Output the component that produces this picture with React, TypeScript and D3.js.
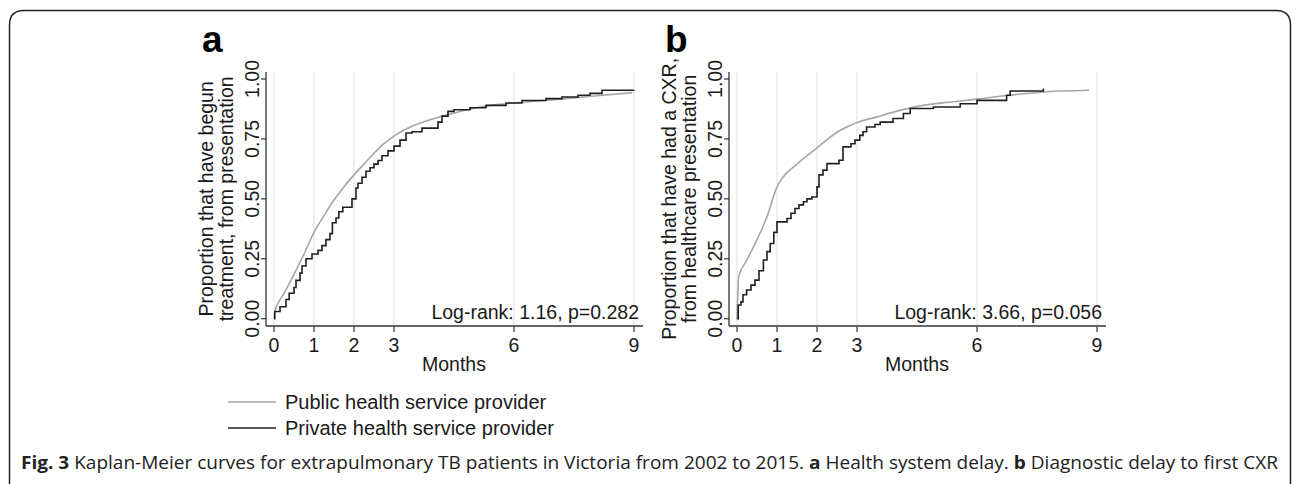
import React from "react";
import * as d3 from "d3";

const W = 1292;
const H = 484;
const FONT = "'Liberation Sans', Arial, Helvetica, sans-serif";
const CAP_FONT = "'Open Sans', 'Noto Sans', sans-serif";

const monthTicks = [0, 1, 2, 3, 6, 9];
const propTicks = [0, 0.25, 0.5, 0.75, 1];
const propLabels = ["0.00", "0.25", "0.50", "0.75", "1.00"];

// Panel a: health system delay
const aPublicT = [0, 0.02, 0.25, 0.5, 0.75, 1.0, 1.25, 1.5, 1.75, 2.0, 2.25, 2.5, 2.75, 3.0, 3.25, 3.5, 4.0, 4.5, 5.0, 5.5, 6.0, 7.0, 8.0, 8.96];
const aPublicP = [0, 0.03, 0.105, 0.185, 0.27, 0.36, 0.43, 0.495, 0.55, 0.6, 0.645, 0.69, 0.73, 0.762, 0.787, 0.806, 0.835, 0.858, 0.878, 0.892, 0.9, 0.914, 0.929, 0.943];

const aPrivateT = [0, 0.02, 0.15, 0.3, 0.38, 0.5, 0.55, 0.65, 0.7, 0.8, 0.95, 1.1, 1.2, 1.3, 1.4, 1.46, 1.55, 1.62, 1.72, 1.95, 2.05, 2.1, 2.2, 2.3, 2.4, 2.5, 2.6, 2.7, 2.85, 3.0, 3.15, 3.3, 3.45, 3.7, 4.1, 4.2, 4.35, 4.5, 4.9, 5.3, 5.8, 6.2, 6.8, 7.2, 7.6, 7.9, 8.2, 8.99];
const aPrivateP = [0, 0.03, 0.05, 0.08, 0.106, 0.13, 0.16, 0.19, 0.22, 0.25, 0.27, 0.285, 0.305, 0.33, 0.355, 0.4, 0.42, 0.446, 0.465, 0.5, 0.545, 0.565, 0.59, 0.615, 0.63, 0.645, 0.66, 0.68, 0.7, 0.72, 0.745, 0.775, 0.78, 0.795, 0.82, 0.845, 0.865, 0.872, 0.88, 0.89, 0.9, 0.91, 0.918, 0.925, 0.932, 0.94, 0.953, 0.955];

// Panel b: diagnostic delay to first CXR
const bPublicT = [0, 0.02, 0.04, 0.25, 0.5, 0.75, 1.0, 1.15, 1.5, 1.75, 2.0, 2.25, 2.5, 2.75, 3.0, 3.5, 4.0, 4.65, 5.3, 6.0, 6.75, 7.6, 8.8];
const bPublicP = [0, 0.1, 0.175, 0.245, 0.33, 0.425, 0.55, 0.59, 0.645, 0.68, 0.713, 0.747, 0.778, 0.8, 0.818, 0.842, 0.866, 0.89, 0.903, 0.916, 0.931, 0.945, 0.953];

const bPrivateT = [0, 0.03, 0.1, 0.15, 0.24, 0.35, 0.45, 0.55, 0.66, 0.75, 0.83, 0.92, 1.0, 1.25, 1.35, 1.45, 1.55, 1.66, 1.75, 1.87, 2.0, 2.05, 2.15, 2.25, 2.55, 2.65, 2.85, 2.95, 3.07, 3.15, 3.24, 3.45, 3.58, 3.9, 4.16, 4.33, 4.91, 5.58, 6.0, 6.74, 6.83, 7.66];
const bPrivateP = [0, 0.057, 0.07, 0.1, 0.12, 0.14, 0.161, 0.2, 0.245, 0.28, 0.314, 0.36, 0.404, 0.418, 0.44, 0.46, 0.475, 0.488, 0.5, 0.508, 0.55, 0.6, 0.62, 0.647, 0.661, 0.717, 0.73, 0.745, 0.765, 0.78, 0.8, 0.81, 0.82, 0.835, 0.856, 0.877, 0.883, 0.897, 0.911, 0.932, 0.95, 0.96];

const seriesNames = ["Public health service provider", "Private health service provider"];
const seriesColors = ["#a6a6a6", "#1f1f1f"];

const zip = (t: number[], p: number[]) => t.map((v, i) => [v, p[i]] as [number, number]);

type PanelProps = {
  dx: number;
  letter: string;
  title1: string;
  title2: string;
  logrank: string;
  pub: [number, number][];
  priv: [number, number][];
};

function Panel({ dx, letter, title1, title2, logrank, pub, priv }: PanelProps) {
  const x = d3.scaleLinear().domain([0, 9]).range([274 + dx, 634 + dx]);
  const y = d3.scaleLinear().domain([0, 1]).range([318.7, 79]);
  const axisX = 266 + dx;
  const axisY = 326;
  const top = 72;
  const right = 643 + dx;
  const pubLine = d3.line<[number, number]>().x((d) => x(d[0])).y((d) => y(d[1])).curve(d3.curveMonotoneX);
  const privLine = d3.line<[number, number]>().x((d) => x(d[0])).y((d) => y(d[1])).curve(d3.curveStepAfter);
  const yMid = (y(0) + y(1)) / 2;
  return (
    <g fontFamily={FONT} fill="#1a1a1a">
      {monthTicks.map((m) => (
        <line key={"g" + m} x1={x(m)} x2={x(m)} y1={top} y2={axisY} stroke="#e4e4e4" strokeWidth={1.2} />
      ))}
      <path d={pubLine(pub) || ""} fill="none" stroke={seriesColors[0]} strokeWidth={1.6} />
      <path d={privLine(priv) || ""} fill="none" stroke={seriesColors[1]} strokeWidth={1.6} />
      <line x1={axisX} x2={axisX} y1={top} y2={axisY} stroke="#333" strokeWidth={1.3} />
      <line x1={axisX} x2={right} y1={axisY} y2={axisY} stroke="#333" strokeWidth={1.3} />
      {propTicks.map((v, i) => (
        <g key={"y" + v}>
          <line x1={axisX - 5} x2={axisX} y1={y(v)} y2={y(v)} stroke="#333" strokeWidth={1.2} />
          <text
            transform={`translate(${axisX - 7},${y(v)}) rotate(-90)`}
            textAnchor="middle"
            fontSize={19.5}
          >
            {propLabels[i]}
          </text>
        </g>
      ))}
      {monthTicks.map((m) => (
        <g key={"x" + m}>
          <line x1={x(m)} x2={x(m)} y1={axisY} y2={axisY + 6} stroke="#333" strokeWidth={1.2} />
          <text x={x(m)} y={352} textAnchor="middle" fontSize={19.5}>
            {m}
          </text>
        </g>
      ))}
      <text x={x(4.5)} y={371} textAnchor="middle" fontSize={19.5}>
        Months
      </text>
      <text transform={`translate(${axisX - 53},${yMid}) rotate(-90)`} textAnchor="middle" fontSize={19.5}>
        {title1}
      </text>
      <text transform={`translate(${axisX - 33},${yMid}) rotate(-90)`} textAnchor="middle" fontSize={19.5}>
        {title2}
      </text>
      <text x={x(9) + 5} y={319} textAnchor="end" fontSize={19.5}>
        {logrank}
      </text>
      <text x={axisX - 64} y={52} fontSize={37} fontWeight="bold" fill="#000">
        {letter}
      </text>
    </g>
  );
}

export default function App() {
  return (
    <svg
      width={W}
      height={H}
      viewBox={`0 0 ${W} ${H}`}
      style={{ position: "absolute", left: 0, top: 0, background: "#fff" }}
    >
      <rect x={0} y={0} width={W} height={H} fill="#fff" />
      <path
        d={`M 9.5 ${H + 2} L 9.5 25 Q 9.5 10.5 24 10.5 L 1276 10.5 Q 1290.5 10.5 1290.5 25 L 1290.5 ${H + 2}`}
        fill="none"
        stroke="#222"
        strokeWidth={1.5}
      />
      <Panel
        dx={0}
        letter="a"
        title1="Proportion that have begun"
        title2="treatment, from presentation"
        logrank="Log-rank: 1.16, p=0.282"
        pub={zip(aPublicT, aPublicP)}
        priv={zip(aPrivateT, aPrivateP)}
      />
      <Panel
        dx={463}
        letter="b"
        title1="Proportion that have had a CXR,"
        title2="from healthcare presentation"
        logrank="Log-rank: 3.66, p=0.056"
        pub={zip(bPublicT, bPublicP)}
        priv={zip(bPrivateT, bPrivateP)}
      />
      <g fontFamily={FONT} fontSize={20} fill="#1a1a1a">
        {seriesNames.map((name, i) => (
          <g key={name}>
            <line x1={228} x2={276} y1={402 + i * 26} y2={402 + i * 26} stroke={seriesColors[i]} strokeWidth={1.6} />
            <text x={285} y={409 + i * 26}>
              {name}
            </text>
          </g>
        ))}
      </g>
      <text x={21} y={469} fontFamily={CAP_FONT} fontSize={17.5} fill="#222" textLength={1257} lengthAdjust="spacingAndGlyphs">
        <tspan fontWeight="bold">Fig. 3</tspan> Kaplan-Meier curves for extrapulmonary TB patients in Victoria from 2002 to 2015.{" "}
        <tspan fontWeight="bold">a</tspan> Health system delay. <tspan fontWeight="bold">b</tspan> Diagnostic delay to first CXR
      </text>
    </svg>
  );
}
